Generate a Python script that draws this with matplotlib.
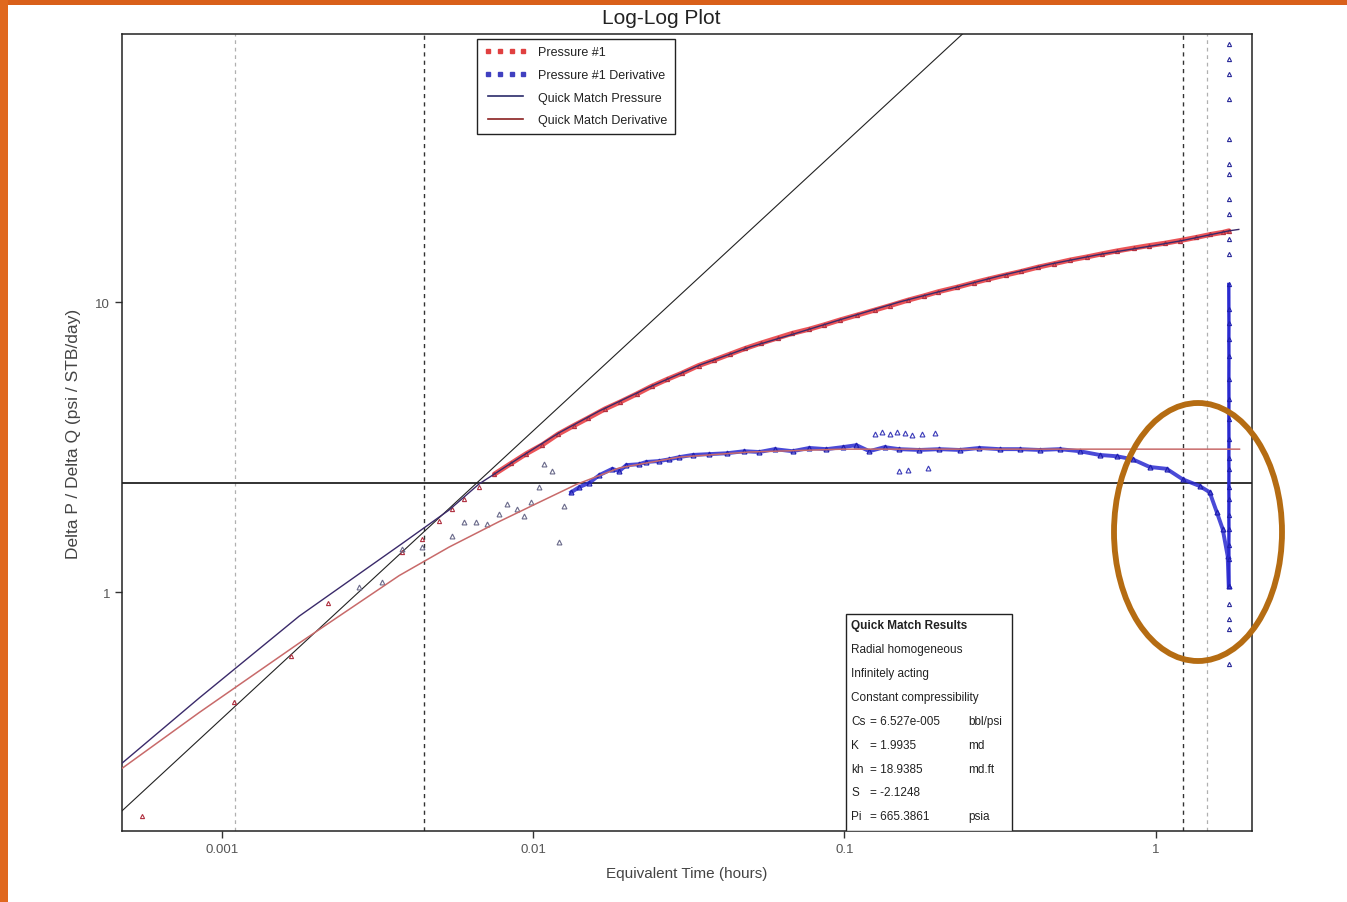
import matplotlib
matplotlib.use("Agg")
import matplotlib.pyplot as plt
from matplotlib.lines import Line2D
from matplotlib.patches import Rectangle, Ellipse

plt.rcParams['font.family'] = ['Liberation Sans Narrow', 'Liberation Sans', 'DejaVu Sans']

# ---------------- data ----------------
x_ticks = [0.001, 0.01, 0.1, 1]
x_tick_labels = ["0.001", "0.01", "0.1", "1"]
y_ticks = [1, 10]
y_tick_labels = ["1", "10"]

# pressure data (Pressure #1)
p_time = [5.53e-4, 1.093e-3, 1.667e-3, 2.19e-3, 3.79e-3, 4.40e-3, 4.98e-3, 5.49e-3, 6.00e-3, 6.70e-3,
          0.0075, 0.0085, 0.0095, 0.0107, 0.012, 0.0135, 0.015, 0.017, 0.019, 0.0215,
          0.024, 0.027, 0.030, 0.034, 0.038, 0.043, 0.048, 0.054, 0.061, 0.068,
          0.077, 0.086, 0.097, 0.11, 0.125, 0.14, 0.16, 0.18, 0.20, 0.23,
          0.26, 0.29, 0.33, 0.37, 0.42, 0.47, 0.53, 0.60, 0.67, 0.75,
          0.85, 0.95, 1.07, 1.2, 1.35, 1.5, 1.65, 1.72]
p_value = [0.169, 0.418, 0.602, 0.916, 1.374, 1.523, 1.757, 1.932, 2.093, 2.302,
           2.55, 2.78, 3.00, 3.22, 3.50, 3.75, 3.98, 4.28, 4.52, 4.82,
           5.12, 5.42, 5.68, 6.04, 6.30, 6.62, 6.92, 7.22, 7.52, 7.80,
           8.06, 8.34, 8.68, 9.02, 9.38, 9.72, 10.15, 10.5, 10.85, 11.25,
           11.65, 12.0, 12.4, 12.75, 13.2, 13.55, 13.95, 14.3, 14.65, 15.0,
           15.35, 15.65, 15.95, 16.3, 16.7, 17.1, 17.4, 17.6]

# derivative data (Pressure #1 Derivative) - early scatter
d_early_time = [2.76e-3, 3.27e-3, 3.79e-3, 4.40e-3, 5.49e-3, 6.00e-3, 6.56e-3, 7.11e-3, 7.77e-3, 8.25e-3,
                8.88e-3, 9.36e-3, 9.85e-3, 0.01045, 0.01085, 0.01151, 0.01213, 0.01258]
d_early_value = [1.04, 1.08, 1.41, 1.43, 1.56, 1.74, 1.74, 1.72, 1.86, 2.01,
                 1.93, 1.83, 2.04, 2.30, 2.76, 2.61, 1.49, 1.98]

# derivative data - main band
d_time = [0.01325, 0.01405, 0.01514, 0.0163, 0.01795, 0.0189, 0.0199, 0.0219, 0.0231, 0.0254,
          0.0274, 0.0295, 0.0325, 0.0368, 0.0418, 0.0477, 0.0533, 0.0596, 0.0681, 0.0772,
          0.0875, 0.0986, 0.1093, 0.1203, 0.1345, 0.150, 0.1742, 0.202, 0.2343, 0.2716,
          0.315, 0.3653, 0.4236, 0.4912, 0.5696, 0.661, 0.749, 0.843, 0.9566, 1.085,
          1.22, 1.385, 1.491, 1.571, 1.642, 1.704, 1.717]
d_value = [2.21, 2.30, 2.38, 2.53, 2.66, 2.61, 2.74, 2.76, 2.81, 2.83,
           2.87, 2.92, 2.97, 2.99, 3.01, 3.06, 3.04, 3.11, 3.06, 3.14,
           3.11, 3.16, 3.21, 3.06, 3.16, 3.11, 3.09, 3.11, 3.09, 3.14,
           3.11, 3.11, 3.09, 3.11, 3.06, 2.97, 2.94, 2.87, 2.70, 2.66,
           2.45, 2.32, 2.21, 1.89, 1.65, 1.33, 1.05]

# derivative outliers around the plateau
d_out_time = [0.125, 0.132, 0.140, 0.148, 0.156, 0.165, 0.178, 0.196, 0.150, 0.160, 0.186]
d_out_value = [3.52, 3.55, 3.50, 3.56, 3.53, 3.49, 3.50, 3.53, 2.62, 2.64, 2.67]

# derivative end column
d_end_dense_time = [1.718, 1.719, 1.720, 1.719, 1.720, 1.719, 1.720, 1.719, 1.720, 1.719,
                    1.720, 1.719, 1.720, 1.719, 1.720, 1.719, 1.720, 1.719]
d_end_dense_value = [11.5, 9.46, 8.5, 7.45, 6.5, 5.43, 4.63, 3.95, 3.37, 2.9,
                     2.66, 2.3, 2.09, 1.85, 1.65, 1.45, 1.30, 1.05]
d_end_sparse_time = [1.72, 1.72, 1.72, 1.72, 1.72, 1.72, 1.72, 1.72, 1.72, 1.72,
                     1.72, 1.72, 1.72, 1.72, 1.72]
d_end_sparse_value = [77.6, 68.9, 61.1, 50.1, 36.5, 29.9, 27.6, 22.6, 20.1, 16.5,
                      14.6, 0.909, 0.807, 0.746, 0.565]

# quick match pressure curve
mp_time = [4.73e-4, 8.44e-4, 1.77e-3, 3.79e-3, 5.37e-3, 6.70e-3, 9.01e-3, 0.0121, 0.0163, 0.0236,
           0.0342, 0.0495, 0.0717, 0.0986, 0.150, 0.218, 0.315, 0.456, 0.661, 1.0,
           1.22, 1.72, 1.85]
mp_value = [0.255, 0.431, 0.826, 1.47, 1.92, 2.36, 2.90, 3.54, 4.21, 5.09,
            6.06, 6.99, 7.87, 8.74, 10.0, 11.1, 12.3, 13.5, 14.6, 15.7,
            16.3, 17.6, 17.8]

# quick match derivative curve
md_time = [4.73e-4, 8.44e-4, 1.77e-3, 3.71e-3, 5.37e-3, 7.77e-3, 0.01045, 0.01375, 0.0189,
           0.0295, 0.0495, 0.0986, 0.315, 1.86]
md_value = [0.245, 0.384, 0.667, 1.14, 1.43, 1.75, 2.04, 2.35, 2.68,
            2.92, 3.04, 3.11, 3.11, 3.11]

# unit-slope and radial-flow lines
unit_slope_time = [4.77e-4, 0.2395]
unit_slope_value = [0.176, 84.0]
radial_level = 2.38

# vertical markers
vlines_light = [0.0011, 1.46]
vlines_dark = [0.00447, 1.22]

results_lines = [
    ("Quick Match Results", "", ""),
    ("Radial homogeneous", "", ""),
    ("Infinitely acting", "", ""),
    ("Constant compressibility", "", ""),
    ("Cs", "= 6.527e-005", "bbl/psi"),
    ("K", "= 1.9935", "md"),
    ("kh", "= 18.9385", "md.ft"),
    ("S", "= -2.1248", ""),
    ("Pi", "= 665.3861", "psia"),
]

# ---------------- figure ----------------
W, H = 1347, 903
fig = plt.figure(figsize=(W / 100, H / 100), dpi=100)
fig.patch.set_facecolor("white")

# orange frame strips
fig.add_artist(Rectangle((0, 1 - 6 / H), 1, 6 / H, transform=fig.transFigure,
                         facecolor="#d9601a", edgecolor="none"))
fig.add_artist(Rectangle((0, 0), 8 / W, 1, transform=fig.transFigure,
                         facecolor="#e0681e", edgecolor="none"))

ax_l, ax_r, ax_t, ax_b = 122, 1252, 35, 832
ax = fig.add_axes([ax_l / W, 1 - ax_b / H, (ax_r - ax_l) / W, (ax_b - ax_t) / H])
ax.set_xscale("log")
ax.set_yscale("log")
ax.set_xlim(4.77e-4, 2.04)
ax.set_ylim(0.150, 84)

for s in ax.spines.values():
    s.set_color("#222222")
    s.set_linewidth(1.1)

# reference lines
for v in vlines_light:
    ax.axvline(v, color="#b0b0b0", lw=0.9, ls=(0, (3, 3)), zorder=1)
for v in vlines_dark:
    ax.axvline(v, color="#333333", lw=1.0, ls=(0, (3, 3)), zorder=1)
ax.axhline(radial_level, color="#222222", lw=1.3, zorder=2)
ax.plot(unit_slope_time, unit_slope_value, color="#222222", lw=0.8, zorder=2)

# pressure data
ax.plot(p_time[10:], p_value[10:], color="#e8363a", lw=3.6, alpha=0.85, zorder=3,
        solid_capstyle="round")
ax.plot(p_time, p_value, ls="none", marker="^", ms=3, mfc="none", mec="#b03040",
        mew=0.8, zorder=4)

# derivative data
ax.plot(d_early_time, d_early_value, ls="none", marker="^", ms=3.5, mfc="none",
        mec="#6a6a8a", mew=0.8, zorder=4)
ax.plot(d_time, d_value, color="#2a2ad0", lw=2.8, alpha=0.85, zorder=4)
ax.plot(d_time, d_value, ls="none", marker="^", ms=3.5, mfc="none", mec="#2020b0",
        mew=0.9, zorder=5)
ax.plot(d_out_time, d_out_value, ls="none", marker="^", ms=3.5, mfc="none",
        mec="#3a3ab8", mew=0.8, zorder=5)
ax.plot(d_end_dense_time, d_end_dense_value, color="#2a2ad0", lw=2.4, zorder=5,
        marker="^", ms=3, mfc="none", mec="#2020b0", mew=0.8)
ax.plot(d_end_sparse_time, d_end_sparse_value, ls="none", marker="^", ms=3, mfc="none",
        mec="#2a2a9a", mew=0.8, zorder=5)

# quick match curves
ax.plot(mp_time, mp_value, color="#3a2a6a", lw=1.0, zorder=6)
ax.plot(md_time, md_value, color="#c86a6a", lw=1.1, zorder=6)

# ticks
ax.set_xticks(x_ticks)
ax.set_xticklabels(x_tick_labels)
ax.set_yticks(y_ticks)
ax.set_yticklabels(y_tick_labels)
ax.minorticks_off()
ax.tick_params(axis="both", direction="out", length=5, width=1, color="#333333",
               labelsize=9.5, labelcolor="#555555")

ax.set_xlabel("Equivalent Time (hours)", fontsize=11, color="#444444", labelpad=8)
ax.set_ylabel("Delta P / Delta Q (psi / STB/day)", fontsize=12.5, color="#444444", labelpad=10)
fig.text(661 / W, 1 - 19 / H, "Log-Log Plot", ha="center", va="center",
         fontsize=15, color="#222222")

# legend
handles = [
    Line2D([], [], ls="none", marker="s", ms=2.2, color="#e04040"),
    Line2D([], [], ls="none", marker="s", ms=2.2, color="#4040c0"),
    Line2D([], [], color="#2a2a6a", lw=1.2),
    Line2D([], [], color="#8a2020", lw=1.2),
]
labels = ["Pressure #1", "Pressure #1 Derivative", "Quick Match Pressure", "Quick Match Derivative"]
leg = ax.legend(handles, labels, loc="upper left",
                bbox_to_anchor=((477 - ax_l) / (ax_r - ax_l), 1 - (40 - ax_t) / (ax_b - ax_t)),
                borderaxespad=0, fontsize=9, numpoints=4, handlelength=3.4, handletextpad=0.9,
                labelspacing=0.85, borderpad=0.6, fancybox=False, framealpha=1,
                edgecolor="#222222", shadow=False)
leg.get_frame().set_linewidth(1.0)
for t in leg.get_texts():
    t.set_color("#222222")

# results box
bx0 = (846 - ax_l) / (ax_r - ax_l)
bx1 = (1012 - ax_l) / (ax_r - ax_l)
by1 = (ax_b - 615) / (ax_b - ax_t)
ax.add_patch(Rectangle((bx0, 0), bx1 - bx0, by1, transform=ax.transAxes,
                       facecolor="white", edgecolor="#222222", lw=1.0, zorder=8))
row_y = [626, 650, 674, 698, 722, 746, 770, 793, 817]
for (lab, val, unit), yp in zip(results_lines, row_y):
    yy = (ax_b - yp) / (ax_b - ax_t)
    ax.text((851 - ax_l) / (ax_r - ax_l), yy, lab, transform=ax.transAxes, va="center",
            ha="left", fontsize=8.5, color="#222222", zorder=9,
            fontweight="bold" if lab == "Quick Match Results" else "normal")
    if val:
        ax.text((870 - ax_l) / (ax_r - ax_l), yy, val, transform=ax.transAxes, va="center",
                ha="left", fontsize=8.5, color="#222222", zorder=9)
    if unit:
        ax.text((968 - ax_l) / (ax_r - ax_l), yy, unit, transform=ax.transAxes, va="center",
                ha="left", fontsize=8.5, color="#222222", zorder=9)

# highlight ellipse
fig.add_artist(Ellipse((1198 / W, 1 - 533 / H), 168 / W, 258 / H, transform=fig.transFigure,
                       facecolor="none", edgecolor="#b56c12", lw=4.2, zorder=20))

fig.savefig("out.png", dpi=100, facecolor="white")
